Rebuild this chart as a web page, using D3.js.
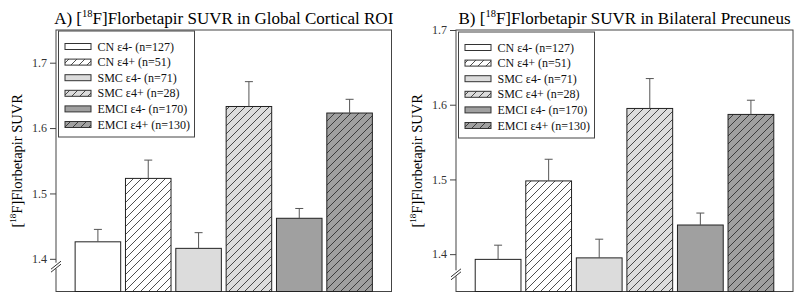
<!DOCTYPE html>
<html lang="en">
<head>
    <meta charset="UTF-8">
    <title>Florbetapir SUVR</title>
    <script src="https://cdn.jsdelivr.net/npm/d3@7"></script>
    <style>
        body { margin: 0; background: #fff; }
        text { font-family: "Liberation Serif", "Times New Roman", serif; }
    </style>
</head>
<body>
    <svg width="800" height="299" id="mainsvg" style="display: block;"></svg>
    <script>
        const svg = d3.select("#mainsvg")

        // groups, in bar order
        const groups = ["CN ε4- (n=127)", "CN ε4+ (n=51)", "SMC ε4- (n=71)",
                        "SMC ε4+ (n=28)", "EMCI ε4- (n=170)", "EMCI ε4+ (n=130)"];
        // A) global cortical ROI: mean and SE
        const globalMean = [1.426, 1.523, 1.416, 1.633, 1.462, 1.623];
        const globalSE   = [0.019, 0.028, 0.024, 0.038, 0.015, 0.021];
        // B) bilateral precuneus: mean and SE
        const precMean = [1.393, 1.498, 1.395, 1.595, 1.439, 1.587];
        const precSE   = [0.019, 0.029, 0.025, 0.040, 0.016, 0.019];
        const yTicks = [1.4, 1.5, 1.6, 1.7];

        const fills = ["#ffffff", "#ffffff", "#dcdcdc", "#dcdcdc", "#a0a0a0", "#a0a0a0"];
        const hatched = [false, true, false, true, false, true];

        const defs = svg.append("defs");
        fills.forEach((c, i) => {
            if (!hatched[i]) return;
            const p = defs.append("pattern")
                .attr("id", "hatch" + i)
                .attr("patternUnits", "userSpaceOnUse")
                .attr("width", 8).attr("height", 8);
            p.append("rect").attr("width", 8).attr("height", 8).attr("fill", c);
            p.append("path")
                .attr("d", "M-2,2 l4,-4 M0,8 l8,-8 M6,10 l4,-4")
                .attr("stroke", "#222")
                .attr("stroke-width", 0.8);
        });
        const fillOf = i => hatched[i] ? `url(#hatch${i})` : fills[i];

        function drawPanel(cfg) {
            const g = svg.append("g");
            const x = d3.scaleBand().domain(groups)
                .range([cfg.left, cfg.right])
                .paddingInner(0.095).paddingOuter(0.38);
            const y = d3.scaleLinear().domain(cfg.domain).range([cfg.bottom, cfg.top]);

            // frame
            g.append("rect")
                .attr("x", cfg.left).attr("y", cfg.top)
                .attr("width", cfg.right - cfg.left).attr("height", cfg.bottom - cfg.top)
                .attr("fill", "none").attr("stroke", "#444").attr("stroke-width", 1);

            // y axis
            const ax = g.append("g")
                .attr("transform", `translate(${cfg.left},0)`)
                .call(d3.axisLeft(y).tickValues(yTicks).tickSize(6).tickPadding(3).tickFormat(d3.format(".1f")));
            ax.select(".domain").remove();
            ax.selectAll("line").attr("stroke", "#444");
            ax.selectAll("text").attr("font-size", 12).attr("fill", "#333")
                .style("font-family", "Liberation Serif");

            // axis break
            const by = y(cfg.breakAt);
            g.append("rect").attr("x", cfg.left - 2).attr("y", by - 4).attr("width", 4).attr("height", 6).attr("fill", "#fff");
            [-1.5, 1.5].forEach(o => {
                g.append("line")
                    .attr("x1", cfg.left - 5).attr("y1", by + 4 + o)
                    .attr("x2", cfg.left + 5).attr("y2", by - 4 + o)
                    .attr("stroke", "#333").attr("stroke-width", 1);
            });

            // bars
            g.selectAll(".bar").data(groups).join("rect")
                .attr("class", "bar")
                .attr("x", d => x(d))
                .attr("width", x.bandwidth())
                .attr("y", (d, i) => y(cfg.mean[i]))
                .attr("height", (d, i) => cfg.bottom - y(cfg.mean[i]))
                .attr("fill", (d, i) => fillOf(i))
                .attr("stroke", "#222").attr("stroke-width", 1);

            // error bars (upper only)
            groups.forEach((d, i) => {
                const cx = x(d) + x.bandwidth() / 2;
                const top = y(cfg.mean[i] + cfg.se[i]);
                g.append("line").attr("x1", cx).attr("x2", cx)
                    .attr("y1", y(cfg.mean[i])).attr("y2", top)
                    .attr("stroke", "#555").attr("stroke-width", 1);
                g.append("line").attr("x1", cx - 4).attr("x2", cx + 4)
                    .attr("y1", top).attr("y2", top)
                    .attr("stroke", "#555").attr("stroke-width", 1);
            });

            // title
            const t = g.append("text")
                .attr("x", (cfg.left + cfg.right) / 2).attr("y", 24)
                .attr("text-anchor", "middle").attr("font-size", 17).attr("fill", "#000");
            t.append("tspan").text(cfg.prefix + " [");
            t.append("tspan").attr("font-size", 10.5).attr("dy", -7).text("18");
            t.append("tspan").attr("dy", 7).text("F]Florbetapir SUVR in " + cfg.region);

            // y label
            const yl = g.append("text")
                .attr("transform", `translate(${cfg.left - 34},${(cfg.top + cfg.bottom) / 2}) rotate(-90)`)
                .attr("text-anchor", "middle").attr("font-size", 14.5).attr("fill", "#000");
            yl.append("tspan").text("[");
            yl.append("tspan").attr("font-size", 9).attr("dy", -6).text("18");
            yl.append("tspan").attr("dy", 6).text("F]Florbetapir SUVR");

            // legend
            const lg = g.append("g");
            lg.append("rect")
                .attr("x", cfg.left + 2.5).attr("y", cfg.legTop)
                .attr("width", 136).attr("height", 106)
                .attr("fill", "#fff").attr("stroke", "#444").attr("stroke-width", 1);
            groups.forEach((d, i) => {
                const ry = cfg.legTop + 15.5 + i * 15.6;
                lg.append("rect")
                    .attr("x", cfg.left + 9).attr("y", ry - 3)
                    .attr("width", 26).attr("height", 6)
                    .attr("fill", fillOf(i)).attr("stroke", "#333").attr("stroke-width", 1);
                lg.append("text")
                    .attr("x", cfg.left + 41.5).attr("y", ry + 4)
                    .attr("font-size", 12).attr("fill", "#111")
                    .text(d);
            });
        }

        drawPanel({left: 56, right: 391.5, top: 30, bottom: 291.5, domain: [1.35, 1.75],
                   mean: globalMean, se: globalSE, breakAt: 1.388, legTop: 31,
                   prefix: "A)", region: "Global Cortical ROI"});
        drawPanel({left: 456, right: 793, top: 30, bottom: 291.5, domain: [1.35, 1.70],
                   mean: precMean, se: precSE, breakAt: 1.373, legTop: 32,
                   prefix: "B)", region: "Bilateral Precuneus"});
    </script>
</body>
</html>
